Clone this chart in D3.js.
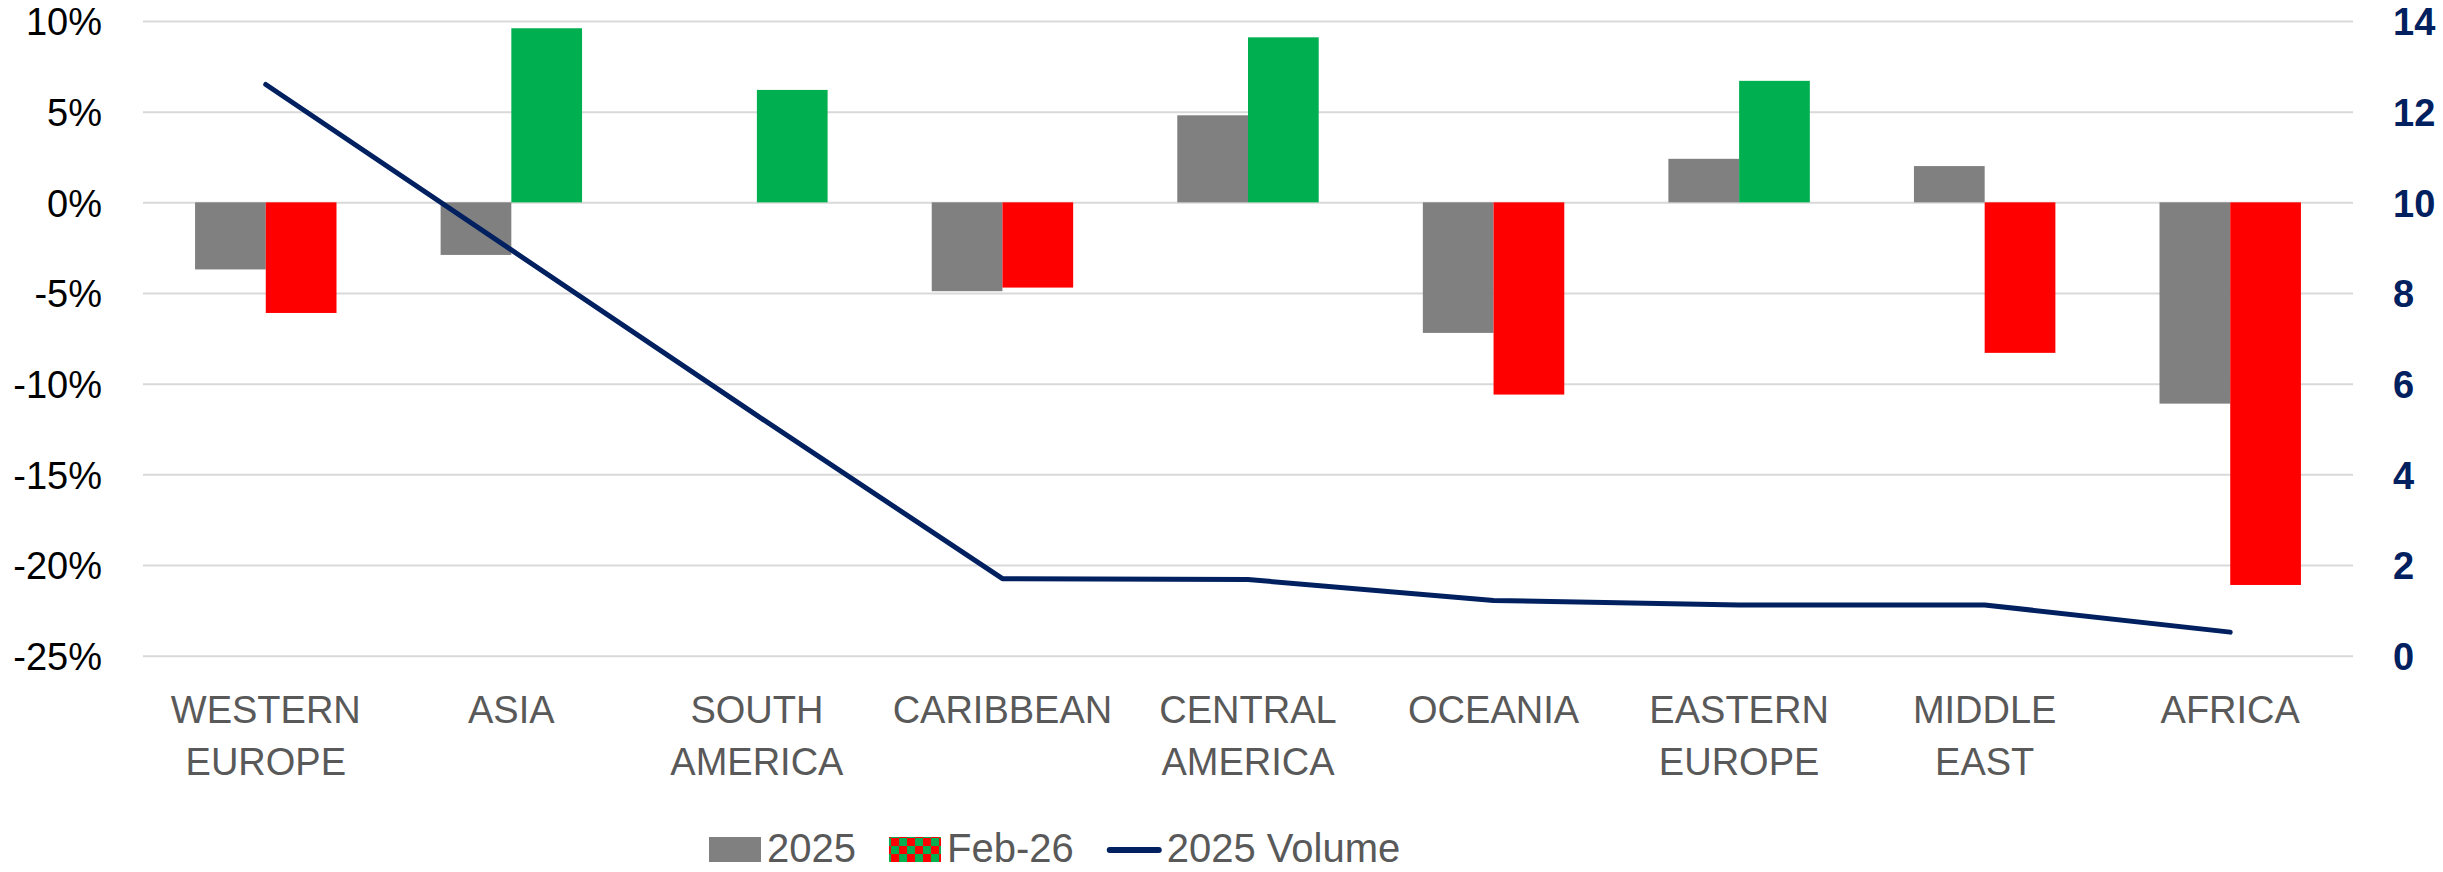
<!DOCTYPE html>
<html>
<head>
<meta charset="utf-8">
<script src="https://cdn.jsdelivr.net/npm/d3@7"></script>
<style>
  html, body { margin: 0; padding: 0; background: #fff; }
  svg { display: block; font-family: "Liberation Sans", Arial, sans-serif; }
</style>
</head>
<body>
<svg id="chart"></svg>
<script>
// categories (one entry per label line)
const categories = [
  ["WESTERN", "EUROPE"], ["ASIA"], ["SOUTH", "AMERICA"], ["CARIBBEAN"],
  ["CENTRAL", "AMERICA"], ["OCEANIA"], ["EASTERN", "EUROPE"], ["MIDDLE", "EAST"], ["AFRICA"]
];
// % change
const values2025 = [-3.7, -2.9, null, -4.9, 4.8, -7.2, 2.4, 2.0, -11.1];
const valuesFeb26 = [-6.1, 9.6, 6.2, -4.7, 9.1, -10.6, 6.7, -8.3, -21.1];
// volume on the right axis
const volume2025 = [12.6, 8.95, 5.3, 1.7, 1.68, 1.22, 1.12, 1.12, 0.52];
// ticks
const leftTicks = [10, 5, 0, -5, -10, -15, -20, -25];
const rightTicks = [0, 2, 4, 6, 8, 10, 12, 14];
const seriesNames = ["2025", "Feb-26"];

(() => {
  const width = 2443, height = 872;
  const plot = { left: 143, right: 2353, top: 21, bottom: 655.7 };

  const svg = d3.select("#chart").attr("width", width).attr("height", height);

  const keys = categories.map(d => d.join(" "));
  const x = d3.scaleBand().domain(keys).range([plot.left, plot.right]);
  const barW = x.bandwidth() * 0.288;
  const xSub = d3.scaleBand().domain(seriesNames).range([0, barW * 2]);
  const yL = d3.scaleLinear().domain([-25, 10]).range([plot.bottom, plot.top]);
  const yR = d3.scaleLinear().domain([0, 14]).range([plot.bottom, plot.top]);

  // gridlines + left axis labels
  const gLeft = svg.append("g")
    .attr("transform", `translate(${plot.left},0)`)
    .call(d3.axisLeft(yL).tickValues(leftTicks).tickFormat(d => d + "%")
      .tickSize(-(plot.right - plot.left)).tickPadding(41));
  gLeft.select(".domain").remove();
  gLeft.selectAll(".tick line").attr("stroke", "#d9d9d9").attr("stroke-width", 2);
  gLeft.selectAll(".tick text").attr("fill", "#000").style("font-size", "38px").attr("dy", "0.36em");

  // right axis labels
  const gRight = svg.append("g")
    .attr("transform", `translate(${plot.right},0)`)
    .call(d3.axisRight(yR).tickValues(rightTicks).tickSize(0).tickPadding(40));
  gRight.select(".domain").remove();
  gRight.selectAll(".tick text").attr("fill", "#002060").style("font-size", "38px")
    .style("font-weight", "bold").attr("dy", "0.36em");

  // bars
  const barData = [];
  keys.forEach((k, i) => {
    if (values2025[i] !== null) barData.push({ k, s: "2025", v: values2025[i] });
    if (valuesFeb26[i] !== null) barData.push({ k, s: "Feb-26", v: valuesFeb26[i] });
  });
  const barColor = d => d.s === "2025" ? "#808080" : (d.v >= 0 ? "#00B050" : "#FF0000");

  svg.append("g").selectAll("rect")
    .data(barData)
    .join("rect")
    .attr("x", d => x(d.k) + x.bandwidth() / 2 - barW + xSub(d.s))
    .attr("width", xSub.bandwidth())
    .attr("y", d => yL(Math.max(0, d.v)))
    .attr("height", d => Math.abs(yL(d.v) - yL(0)))
    .attr("fill", barColor);

  // volume line
  const line = d3.line()
    .x((d, i) => x(keys[i]) + x.bandwidth() / 2)
    .y(d => yR(d));
  svg.append("path")
    .datum(volume2025)
    .attr("d", line)
    .attr("fill", "none")
    .attr("stroke", "#002060")
    .attr("stroke-width", 5)
    .attr("stroke-linejoin", "round")
    .attr("stroke-linecap", "round");

  // category labels
  const labels = svg.append("g").selectAll("text")
    .data(categories)
    .join("text")
    .attr("text-anchor", "middle")
    .attr("fill", "#595959")
    .style("font-size", "38px");
  labels.selectAll("tspan")
    .data((d, i) => d.map(t => ({ t, k: keys[i] })))
    .join("tspan")
    .attr("x", d => x(d.k) + x.bandwidth() / 2)
    .attr("y", (d, j) => 723 + j * 52)
    .text(d => d.t);

  // legend
  const legY = 862;
  const defs = svg.append("defs");
  const pat = defs.append("pattern").attr("id", "checker")
    .attr("patternUnits", "userSpaceOnUse").attr("width", 16).attr("height", 16)
    .attr("x", 891).attr("y", legY - 24);
  pat.append("rect").attr("width", 16).attr("height", 16).attr("fill", "#FF0000");
  pat.append("rect").attr("x", 8).attr("width", 8).attr("height", 8).attr("fill", "#00B050");
  pat.append("rect").attr("y", 8).attr("width", 8).attr("height", 8).attr("fill", "#00B050");

  const legend = svg.append("g").style("font-size", "40px");
  let lx = 709;
  const items = [
    { name: "2025", kind: "rect", fill: "#808080" },
    { name: "Feb-26", kind: "rect", fill: "url(#checker)" },
    { name: "2025 Volume", kind: "line" }
  ];
  items.forEach(it => {
    if (it.kind === "rect") {
      legend.append("rect").attr("x", lx).attr("y", legY - 25).attr("width", 52).attr("height", 25).attr("fill", it.fill);
      lx += 58;
    } else {
      legend.append("line").attr("x1", lx + 3).attr("x2", lx + 52).attr("y1", legY - 12).attr("y2", legY - 12)
        .attr("stroke", "#002060").attr("stroke-width", 6).attr("stroke-linecap", "round");
      lx += 60;
    }
    const t = legend.append("text").attr("x", lx).attr("y", legY).attr("fill", "#595959").text(it.name);
    lx += t.node().getComputedTextLength() + 33;
  });
})();
</script>
</body>
</html>
